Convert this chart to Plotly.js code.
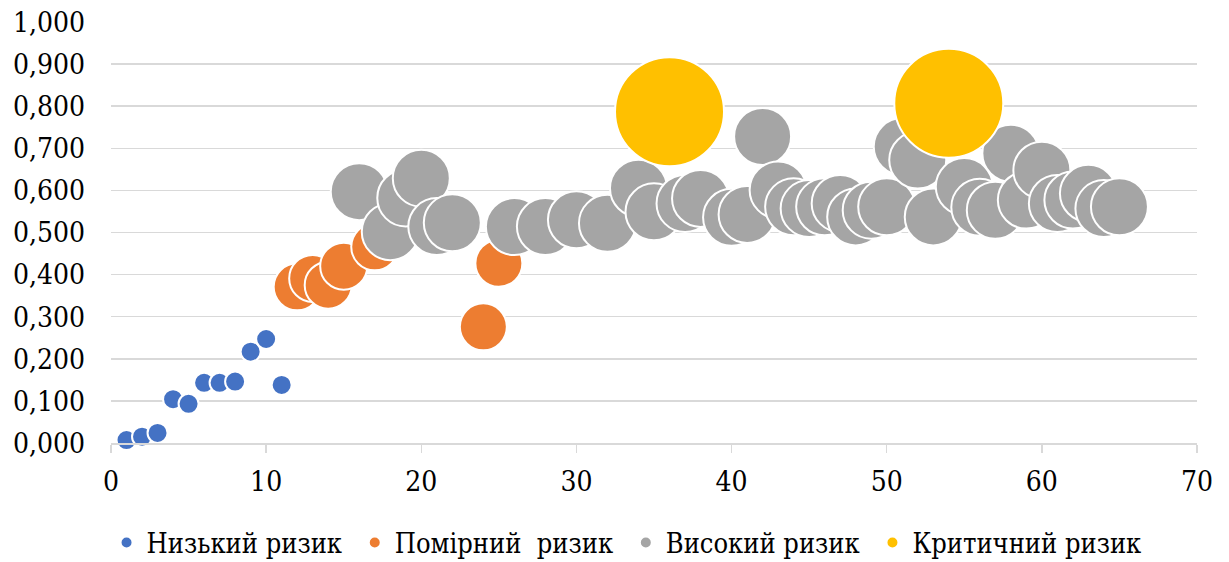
<!DOCTYPE html>
<html>
<head>
<meta charset="utf-8">
<script src="https://cdn.plot.ly/plotly-3.0.1.min.js"></script>
<style>html,body{margin:0;padding:0;background:#fff;}#chart{width:1229px;height:562px;}</style>
</head>
<body>
<div id="chart"></div>
<script>
// Низький ризик
const lowX = [1, 2, 3, 4, 5, 6, 7, 8, 9, 10, 11];
const lowY = [0.007, 0.015, 0.024, 0.104, 0.093, 0.143, 0.143, 0.146, 0.217, 0.247, 0.138];
// Помірний ризик
const modX = [12, 13, 14, 15, 17, 24, 25];
const modY = [0.371, 0.391, 0.375, 0.420, 0.466, 0.276, 0.427];
// Високий ризик
const highX = [16, 18, 19, 20, 21, 22, 26, 28, 30, 32, 34, 35, 37, 38, 40, 41, 42, 43, 44, 45, 46, 47, 48, 49, 50, 51, 52, 53, 55, 56, 57, 58, 59, 60, 61, 62, 63, 64, 65];
const highY = [0.597, 0.502, 0.582, 0.629, 0.514, 0.523, 0.514, 0.514, 0.530, 0.522, 0.605, 0.549, 0.569, 0.581, 0.536, 0.543, 0.728, 0.601, 0.561, 0.557, 0.561, 0.569, 0.537, 0.553, 0.561, 0.704, 0.672, 0.537, 0.609, 0.560, 0.553, 0.688, 0.577, 0.648, 0.569, 0.577, 0.593, 0.557, 0.561];
// Критичний ризик
const critX = [36, 54];
const critY = [0.787, 0.807];

const names = ['Низький ризик\u00a0', 'Помірний\u00a0 ризик\u00a0', 'Високий ризик\u00a0', 'Критичний ризик'];
const colors = ['#4472c4', '#ed7d31', '#a5a5a5', '#ffc000'];
const sizes = [20, 47, 57, 109];
const xs = [lowX, modX, highX, critX];
const ys = [lowY, modY, highY, critY];

const traces = xs.map((x, i) => ({
  type: 'scatter',
  mode: 'markers',
  x: x,
  y: ys[i],
  name: names[i],
  marker: {color: colors[i], size: sizes[i], line: {color: '#ffffff', width: 2}},
  cliponaxis: false,
  hoverinfo: 'x+y'
}));

const font = "'DejaVu Serif Condensed', 'DejaVu Serif', serif";
const layout = {
  width: 1229,
  height: 562,
  margin: {l: 111, r: 32, t: 22, b: 119},
  paper_bgcolor: '#ffffff',
  plot_bgcolor: '#ffffff',
  font: {family: font, size: 28, color: '#000000'},
  separators: ', ',
  showlegend: true,
  legend: {
    orientation: 'h',
    xref: 'container',
    x: 0.5098, xanchor: 'center',
    yref: 'container',
    y: 0.034, yanchor: 'middle',
    font: {family: font, size: 27, color: '#000000'},
    itemsizing: 'constant',
    itemwidth: 30,
    tracegroupgap: 0
  },
  xaxis: {
    range: [0, 70],
    dtick: 10,
    tick0: 0,
    showgrid: false,
    zeroline: false,
    showline: true,
    linecolor: '#d9d9d9',
    linewidth: 1.5,
    ticks: 'outside',
    ticklen: 8,
    tickwidth: 1.5,
    tickcolor: '#d9d9d9',
    ticklabelstandoff: 5,
    tickfont: {family: font, size: 28, color: '#000000'}
  },
  yaxis: {
    range: [0, 1],
    dtick: 0.1,
    tick0: 0,
    tickformat: ',.3f',
    showgrid: true,
    gridcolor: '#d9d9d9',
    gridwidth: 1.5,
    zeroline: false,
    showline: false,
    ticks: '',
    ticklabelstandoff: 25,
    tickfont: {family: font, size: 28, color: '#000000'}
  }
};

Plotly.newPlot('chart', traces, layout, {displayModeBar: false, staticPlot: true});
</script>
</body>
</html>
